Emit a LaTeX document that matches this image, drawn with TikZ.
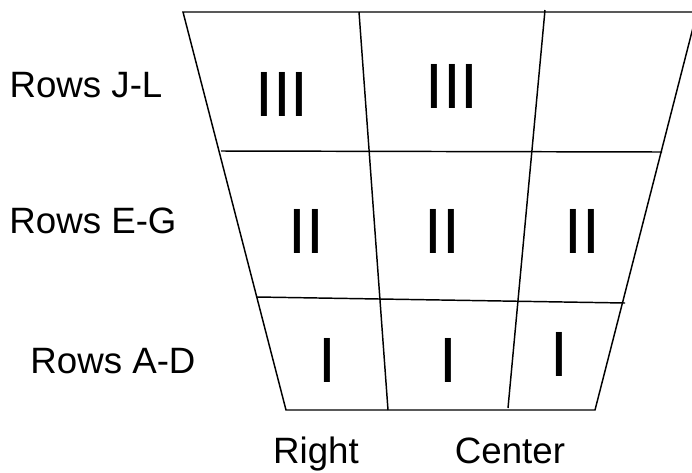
\documentclass[tikz,border=0pt]{standalone}
\usepackage{fontspec}
\setmainfont{Liberation Sans}
\usepackage{tikz}
\usetikzlibrary{arrows, positioning}

\begin{document}
\begin{tikzpicture}[x=0.75pt,
			y=-0.75pt,
			line width=1.1pt,
			rowlabel/.style={anchor=base, inner sep=0pt, font=\fontsize{27.5}{30}\selectfont},
			tally/.style={anchor=base, inner sep=0pt, font=\fontsize{48}{50}\selectfont}]

			\clip (0,0) rectangle (692,472);

			% outline of the section
			\coordinate (tl) at (183,12);
			\coordinate (tr) at (697,12);
			\coordinate (bl) at (286,410);
			\coordinate (br) at (595,410);
			\draw (tl) -- (tr) -- (br) -- (bl) -- cycle;

			% row and column dividers
			\coordinate (r1l) at (221,151);
			\coordinate (r1r) at (662,152);
			\coordinate (r2l) at (257,297);
			\coordinate (r2r) at (625,303);
			\coordinate (c1t) at (359,12);
			\coordinate (c1b) at (388,410);
			\coordinate (c2t) at (545,10);
			\coordinate (c2b) at (508,408);
			\draw (r1l) -- (r1r);
			\draw (r2l) -- (r2r);
			\draw (c1t) -- (c1b);
			\draw (c2t) -- (c2b);

			\node (jl) [rowlabel] at (86,97) {Rows J-L};
			\node (eg) [rowlabel] at (93,233) {Rows E-G};
			\node (ad) [rowlabel] at (113,373) {Rows A-D};
			\node (right) [rowlabel] at (316,463) {Right};
			\node (center) [rowlabel] at (510,463) {Center};

			\node (t31) [tally] at (282,116) {III};
			\node (t32) [tally] at (452,108) {III};
			\node (t21) [tally] at (306,253) {II};
			\node (t22) [tally] at (442,253) {II};
			\node (t23) [tally] at (582,253) {II};
			\node (t11) [tally] at (327,382) {I};
			\node (t12) [tally] at (448,382) {I};
			\node (t13) [tally] at (559,376) {I};
		\end{tikzpicture}
\end{document}
